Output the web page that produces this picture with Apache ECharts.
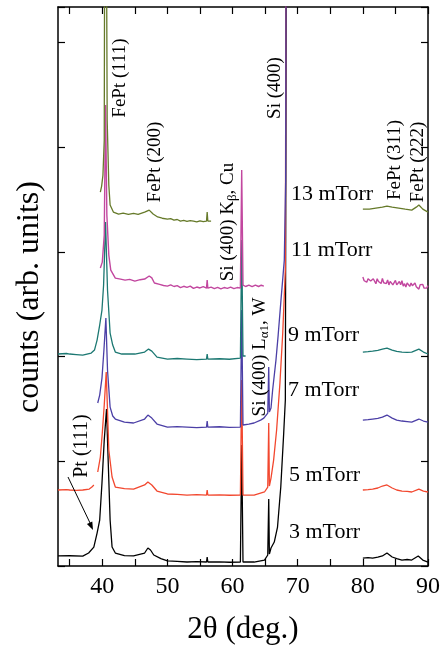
<!DOCTYPE html>
<html><head><meta charset="utf-8">
<script src="https://cdn.jsdelivr.net/npm/echarts@6/dist/echarts.min.js"></script>
<style>html,body{margin:0;padding:0;background:#fff}#c{width:443px;height:651px}</style>
</head><body><div id="c"></div>
<script>
// ---- data: [2theta, counts (arb.)] ----
const xTicks = [35,40,45,50,55,60,65,70,75,80,85,90];
const xLabels = [40,50,60,70,80,90];
const curveNames = ['3 mTorr','5 mTorr','7 mTorr','9 mTorr','11 mTorr','13 mTorr'];
const curveColors = ['#000000','#f2472e','#4b3fa6','#1c7872','#c2479f','#667a2a'];

const t3_low = [[33.2,96],[35,98],[37,94],[37.9,124],[38.7,181],[39.2,315],[39.6,439],[39.95,793],[40.3,1203],[40.65,1499],[40.9,1012],[41.2,439],[41.5,181],[42.0,124],[43.4,100],[44.8,96],[46.5,124],[47.0,172],[47.4,153],[47.9,105],[49,70],[50,48],[51.5,44],[53,38],[54.5,42],[56.0,38],[56.1,86],[56.2,38],[58,40],[59.5,36],[61.2,38],[61.4,1156],[61.6,38],[63.3,38],[64.9,57],[65.4,105],[65.55,640],[65.65,115],[65.9,172],[66.4,229],[66.9,372],[67.4,754],[67.85,1270],[68.1,1585],[68.35,9000]];
const t3_high = [[80,76],[80.8,80],[81.5,76],[82.3,84],[83,96],[83.7,124],[84.5,86],[85.2,70],[86,57],[86.8,62],[87.5,57],[88.5,96],[89.2,57],[90,38]];

const t5_a = [[33.2,726],[34.5,730],[35,726],[36,722],[37,726],[38.0,735],[38.4,754],[38.7,774]];
const t5_low = [[39.3,898],[39.7,1041],[40.0,1270],[40.3,1538],[40.6,1853],[40.8,1490],[41.0,1108],[41.5,850],[42.0,754],[43.4,740],[44.8,735],[46.5,774],[47.0,802],[47.6,774],[48.4,716],[50,688],[51.5,684],[53,678],[54.5,682],[56.0,678],[56.1,726],[56.2,678],[58,680],[59.5,676],[61.2,678],[61.4,1776],[61.6,678],[63.3,678],[64.9,707],[65.4,754],[65.55,1366],[65.65,764],[65.9,840],[66.3,1012],[66.76,1299],[67.27,1748],[67.7,2225],[68.1,2827],[68.3,9000]];
const t5_high = [[80,726],[80.8,730],[81.5,735],[82.3,745],[83,764],[83.7,774],[84.5,745],[85.2,726],[86,716],[86.8,712],[87.5,707],[88.6,735],[89.3,716],[90,707]];

const t7_low = [[39.3,1557],[39.6,1633],[39.95,1795],[40.25,2063],[40.55,2368],[40.8,1872],[41.2,1518],[41.6,1433],[42.0,1404],[43.4,1375],[44.8,1366],[46.5,1404],[47.0,1442],[47.6,1413],[48.4,1356],[50,1327],[51.5,1332],[53,1327],[54.5,1322],[56.0,1327],[56.1,1385],[56.2,1327],[58,1330],[59.5,1325],[61.2,1327],[61.4,2445],[61.6,1347],[62.5,1356],[63.3,1366],[64.3,1394],[64.8,1413],[65.4,1461],[65.55,1900],[65.65,1471],[65.9,1509],[66.15,1681],[66.66,1967],[67.0,2206],[67.43,2540],[67.94,2922],[68.15,3686],[68.3,9000]];
const t7_high = [[80,1394],[80.8,1398],[81.5,1404],[82.3,1410],[83,1423],[83.7,1442],[84.5,1413],[85.2,1394],[86,1385],[86.8,1380],[87.5,1375],[88.6,1404],[89.3,1385],[90,1375]];

const t9_low = [[33.2,2025],[34.5,2030],[35,2025],[36,2020],[37,2015],[38.3,2034],[38.8,2063],[39.2,2158],[39.6,2302],[39.95,2445],[40.2,2684],[40.5,3285],[40.8,2636],[41.2,2225],[41.6,2111],[42.0,2044],[43,2025],[45,2025],[46.5,2044],[47.1,2072],[47.6,2053],[48.4,1996],[50,1977],[51.5,1982],[53,1977],[54.5,1972],[56.0,1977],[56.1,2025],[56.2,1977],[58,1980],[59.5,1975],[61.2,1986],[61.4,3113],[61.6,2006],[62.0,2006]];
const t9_high = [[80,2044],[80.8,2048],[81.5,2053],[82.3,2060],[83.0,2072],[83.7,2082],[84.5,2063],[85.2,2050],[86,2044],[86.8,2040],[87.5,2044],[88.6,2072],[89.3,2044],[90,2025]];

const t11_low = [[39.7,2846],[40.0,2903],[40.3,3161],[40.5,4403],[40.7,3352],[41.0,2970],[41.3,2827],[42.0,2750],[42.8,2740],[43.5,2731],[44.2,2738],[45.0,2722],[45.8,2735],[46.5,2741],[47.2,2770],[47.6,2752],[48.0,2703],[48.8,2690],[49.4,2680],[50,2674],[50.5,2686],[51,2670],[51.5,2678],[52,2660],[52.5,2672],[53,2662],[53.5,2674],[54,2652],[54.5,2665],[55,2656],[55.5,2668],[56.0,2655],[56.1,2731],[56.2,2655],[56.7,2664],[57.2,2650],[57.7,2662],[58.2,2648],[58.7,2660],[59.2,2652],[59.7,2664],[60.2,2650],[60.7,2660],[61.2,2655],[61.4,3782],[61.6,2684],[62.0,2670],[62.5,2684],[63.0,2668],[63.5,2684],[64.0,2670],[64.4,2682],[64.8,2674]];
const t11_high = [[80.0,2761],[80.2,2725],[80.4,2743],[80.6,2711],[80.8,2745],[81.0,2758],[81.2,2722],[81.4,2710],[81.6,2744],[81.8,2727],[82.0,2696],[82.2,2744],[82.4,2718],[82.6,2731],[82.8,2699],[83.0,2748],[83.2,2706],[83.4,2720],[83.6,2698],[83.8,2732],[84.0,2685],[84.2,2719],[84.4,2722],[84.6,2686],[84.8,2704],[85.0,2728],[85.2,2686],[85.4,2694],[85.6,2718],[85.8,2686],[86.0,2725],[86.2,2673],[86.4,2697],[86.6,2665],[86.8,2704],[87.0,2697],[87.2,2671],[87.4,2704],[87.6,2678],[87.8,2661],[88.0,2704],[88.2,2668],[88.4,2686],[88.6,2645],[88.8,2688],[89.0,2672],[89.2,2690],[89.4,2654],[89.6,2672],[89.8,2656],[90.0,2679]];

const t13_low = [[39.7,3572],[39.9,3629],[40.1,3734],[40.3,4068],[40.45,9000],[40.75,4259],[41.0,3639],[41.2,3448],[41.7,3381],[42.5,3362],[43.2,3370],[44,3358],[44.8,3368],[45.5,3360],[46.5,3381],[47.2,3400],[47.8,3362],[48.5,3334],[49.2,3322],[50,3314],[50.5,3318],[51,3305],[51.5,3310],[52,3295],[52.5,3302],[53,3292],[53.5,3300],[54,3295],[54.5,3288],[55,3298],[55.5,3290],[56.0,3295],[56.1,3381],[56.2,3295],[56.7,3295]];
const t13_high = [[80,3409],[81,3409],[82,3419],[83,3428],[83.7,3438],[84.5,3428],[85.5,3419],[86.5,3409],[87.5,3400],[88.2,3428],[88.6,3448],[89.2,3409],[90,3381]];

const curveSegments = [
  [t3_low, t3_high],
  [t5_a, t5_low, t5_high],
  [t7_low, t7_high],
  [t9_low, t9_high],
  [t11_low, t11_high],
  [t13_low, t13_high]
];

// ---- chart ----
const FONT = "'Liberation Serif','Times New Roman',serif";
const chart = echarts.init(document.getElementById('c'), null, {renderer:'canvas'});

function joinSegments(segs){
  const out = [];
  segs.forEach((s,i)=>{
    if(i>0) out.push([ (s[0][0]+out[out.length-1][0])/2, '-' ]);
    s.forEach(p=>out.push(p));
  });
  return out;
}

const series = curveSegments.map((segs,i)=>({
  name: curveNames[i],
  type:'line',
  data: joinSegments(segs),
  showSymbol:false,
  connectNulls:false,
  clip:true,
  lineStyle:{color:curveColors[i], width: i===4 ? 1.4 : 1.3},
  itemStyle:{color:curveColors[i]},
  z: 2+i,
  animation:false
}));

const axisCommon = {
  type:'value', min:33.2, max:90,
  axisLine:{show:true, onZero:false, lineStyle:{color:'#000', width:1.5}},
  splitLine:{show:false}
};

function rot(text, x, y, size, rich){
  const o = {type:'text', x:x, y:y, rotation:Math.PI/2, z:100,
    style:{text:text, fill:'#000', font: size+'px '+FONT, align:'center', verticalAlign:'middle'}};
  if(rich){ o.style.rich = rich; }
  return o;
}
function hlabel(text, x, y){
  return {type:'text', x:x, y:y, z:100,
    style:{text:text, fill:'#000', font:'22px '+FONT, align:'left', verticalAlign:'middle'}};
}
const subRich = {
  n:{fontSize:19, fontFamily:FONT, fill:'#000'},
  s:{fontSize:13, fontFamily:FONT, fill:'#000', padding:[9,0,0,0]}
};

chart.setOption({
  backgroundColor:'#fff',
  animation:false,
  grid:{left:58, right:15, top:7, bottom:85, containLabel:false},
  xAxis:[
    Object.assign({}, axisCommon, {
      position:'bottom',
      name:'2\u03b8 (deg.)', nameLocation:'middle', nameGap:48,
      nameTextStyle:{fontFamily:FONT, fontSize:31, color:'#000'},
      axisTick:{show:true, inside:true, length:7, customValues:xTicks, lineStyle:{color:'#000', width:1.2}},
      axisLabel:{show:true, customValues:xLabels, margin:9, fontFamily:FONT, fontSize:24, color:'#000'}
    }),
    Object.assign({}, axisCommon, {
      position:'top',
      axisTick:{show:true, inside:true, length:7, customValues:xTicks, lineStyle:{color:'#000', width:1.2}},
      axisLabel:{show:false}
    })
  ],
  yAxis:[
    {type:'value', min:0, max:5340, interval:1000, position:'left',
     axisLine:{show:true, lineStyle:{color:'#000', width:1.5}},
     axisTick:{show:true, inside:true, length:7, lineStyle:{color:'#000', width:1.2}},
     axisLabel:{show:false}, splitLine:{show:false}},
    {type:'value', min:0, max:5340, interval:1000, position:'right',
     axisLine:{show:true, lineStyle:{color:'#000', width:1.5}},
     axisTick:{show:true, inside:true, length:7, lineStyle:{color:'#000', width:1.2}},
     axisLabel:{show:false}, splitLine:{show:false}}
  ],
  series: series,
  graphic: [
    {type:'text', x:30, y:297, rotation:Math.PI/2, z:100,
     style:{text:'counts (arb. units)', fill:'#000', font:'32px '+FONT, align:'center', verticalAlign:'middle'}},
    rot('FePt (111)', 120, 78, 19),
    rot('FePt (200)', 155, 162, 19),
    rot('Si (400)', 275, 88, 19),
    rot('{n|Si (400) K}{s|\u03b2}{n|, Cu}', 228, 222, 19, subRich),
    rot('{n|Si (400) L}{s|\u03b11}{n|, W}', 260, 357, 19, subRich),
    rot('FePt (311)', 395, 160, 19),
    rot('FePt (222)', 418, 162, 19),
    rot('Pt (111)', 82, 446, 20),
    hlabel('13 mTorr', 291, 194),
    hlabel('11 mTorr', 291, 250),
    hlabel('9 mTorr', 288, 335),
    hlabel('7 mTorr', 288, 390),
    hlabel('5 mTorr', 289, 475),
    hlabel('3 mTorr', 289, 532),
    {type:'line', z:100, shape:{x1:68, y1:477, x2:91, y2:525}, style:{stroke:'#000', lineWidth:1}},
    {type:'polygon', z:100, shape:{points:[[93,530],[86.9,524.1],[92.3,521.5]]}, style:{fill:'#000'}}
  ]
});
</script>
</body></html>
